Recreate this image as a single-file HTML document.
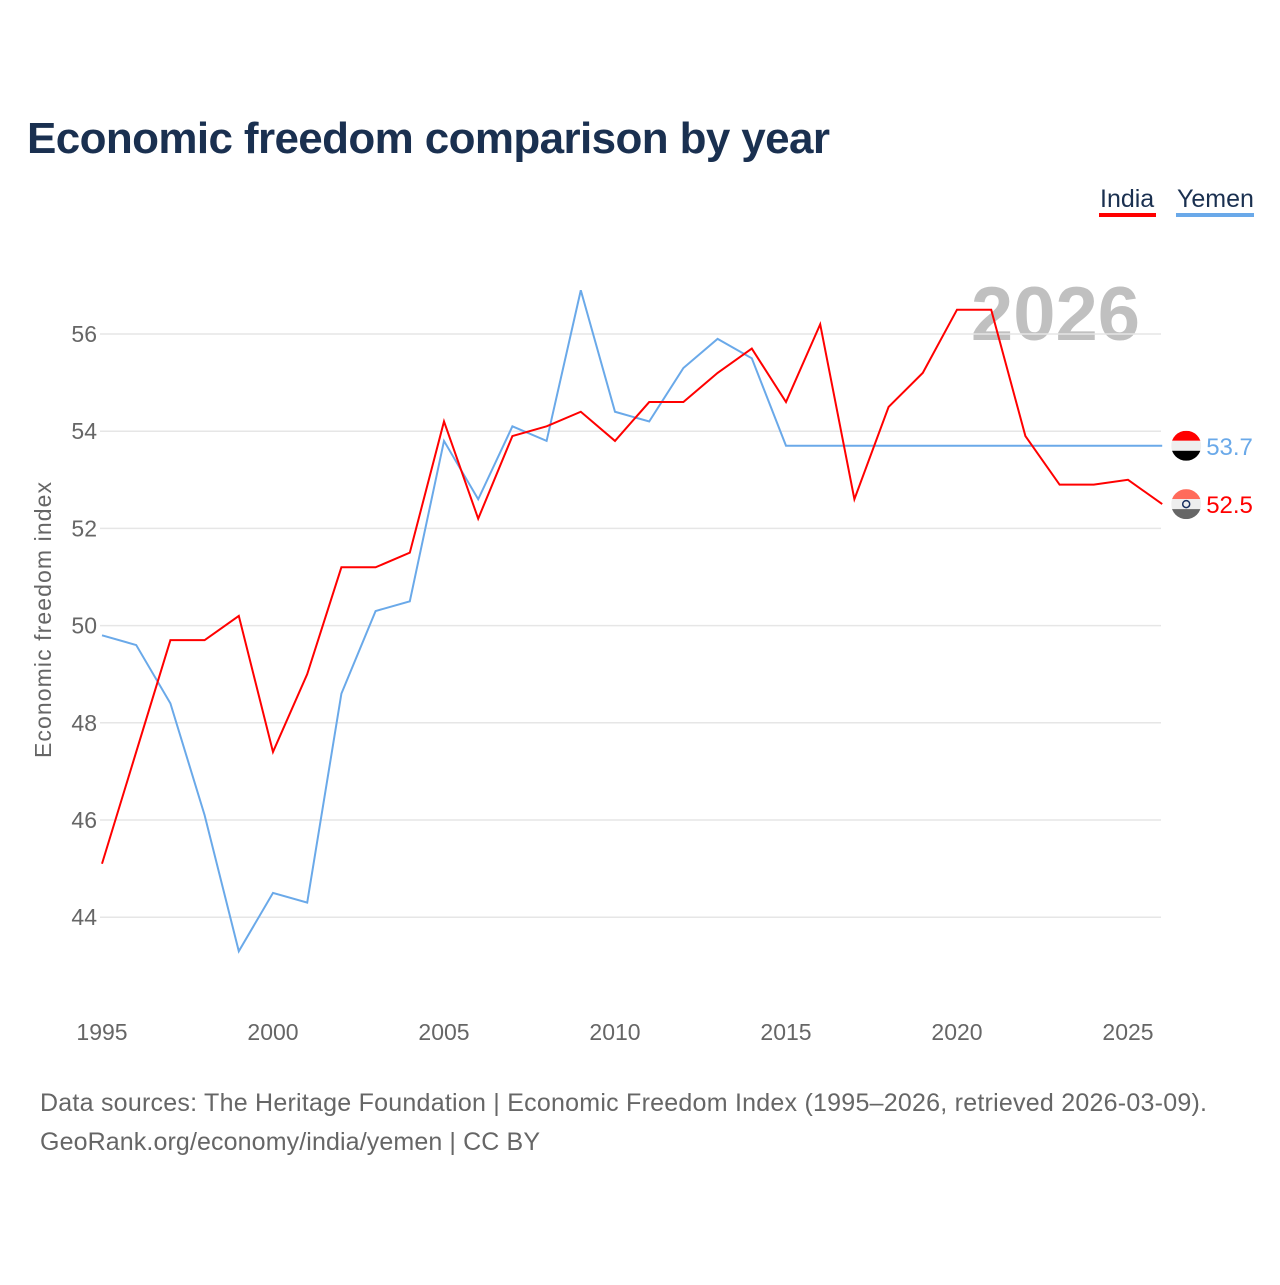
<!DOCTYPE html>
<html><head><meta charset="utf-8"><style>
body{margin:0;background:#fff;}
svg text{font-family:"Liberation Sans",sans-serif;}
</style></head><body>
<svg id="chart" width="1280" height="1280" xmlns="http://www.w3.org/2000/svg">
<text x="27" y="153" font-size="44" font-weight="bold" fill="#1a3050" textLength="803">Economic freedom comparison by year</text>
<g>
<text x="1100" y="207" font-size="25" fill="#1a3050">India</text>
<rect x="1099" y="213" width="57" height="4" fill="#ff0000"/>
<text x="1177" y="207" font-size="25" fill="#1a3050">Yemen</text>
<rect x="1176" y="213" width="78" height="4" fill="#6aa9e9"/>
</g>
<text x="1140" y="340" font-size="76" font-weight="bold" fill="#c0c0c0" text-anchor="end">2026</text>
<g id="grid"></g><g id="xticks"></g>
<text transform="translate(51,620) rotate(-90)" font-size="23" fill="#666" text-anchor="middle" textLength="276">Economic freedom index</text>
<g id="series"></g>
<text x="40" y="1111" font-size="25" fill="#666" textLength="1167">Data sources: The Heritage Foundation | Economic Freedom Index (1995–2026, retrieved 2026-03-09).</text>
<text x="40" y="1150" font-size="25" fill="#666" textLength="500">GeoRank.org/economy/india/yemen | CC BY</text>
</svg>
<script>
const years=[1995,1996,1997,1998,1999,2000,2001,2002,2003,2004,2005,2006,2007,2008,2009,2010,2011,2012,2013,2014,2015,2016,2017,2018,2019,2020,2021,2022,2023,2024,2025,2026];
const india=[45.1,47.4,49.7,49.7,50.2,47.4,49.0,51.2,51.2,51.5,54.2,52.2,53.9,54.1,54.4,53.8,54.6,54.6,55.2,55.7,54.6,56.2,52.6,54.5,55.2,56.5,56.5,53.9,52.9,52.9,53.0,52.5];
const yemen=[49.8,49.6,48.4,46.1,43.3,44.5,44.3,48.6,50.3,50.5,53.8,52.6,54.1,53.8,56.9,54.4,54.2,55.3,55.9,55.5,53.7,53.7,53.7,53.7,53.7,53.7,53.7,53.7,53.7,53.7,53.7,53.7];
const yTicks=[44,46,48,50,52,54,56];
const xTicks=[1995,2000,2005,2010,2015,2020,2025];
const NS="http://www.w3.org/2000/svg";
const X=y=>102+(y-1995)*34.2;
const Y=v=>334+(56-v)*48.6;
function mk(t,a,p){const e=document.createElementNS(NS,t);for(const k in a)e.setAttribute(k,a[k]);p.appendChild(e);return e;}
const grid=document.getElementById('grid');
yTicks.forEach(v=>{
 const l=mk('line',{x1:100,x2:1161,y1:Y(v),y2:Y(v),stroke:'#e6e6e6','stroke-width':1.5},grid);
 
 
 const t=mk('text',{x:97,y:Y(v)+8,'font-size':23,fill:'#666','text-anchor':'end'},grid);
 t.textContent=v;
 
 
});
const xt=document.getElementById('xticks');
xTicks.forEach(y=>{
 const t=mk('text',{x:X(y),y:1040,'font-size':23,fill:'#666','text-anchor':'middle'},xt);
 t.textContent=y;
 
 
});
const sg=document.getElementById('series');
function line(vals,col,name,w){
 const p=mk('polyline',{points:vals.map((v,i)=>X(years[i])+','+Y(v)).join(' '),fill:'none',stroke:col,'stroke-width':w,'stroke-linejoin':'miter'},sg);
 
 
}
line(yemen,'#6aa9e9','yemen-line',2);
line(india,'#ff0000','india-line',2);
const ex=X(2026);
function flag(cy,cols,name){
 const g=mk('g',{},sg);
 
 
 const id='c'+name;
 const cp=mk('clipPath',{id:id},g);mk('circle',{cx:ex+24,cy:cy,r:15},cp);
 cols.forEach((c,i)=>mk('rect',{x:ex+9,y:cy-15+i*10,width:30,height:10,fill:c,'clip-path':'url(#'+id+')'},g));
 return g;
}
const yl=Y(yemen[yemen.length-1]), il=Y(india[india.length-1]);
flag(yl,['#ff0000','#eeeeee','#000000'],'yemen-flag');
const ig=flag(il,['#ff6b5b','#eeeeee','#666666'],'india-flag');
mk('circle',{cx:ex+24,cy:il,r:3.5,fill:'none',stroke:'#1a3060','stroke-width':1.5},ig);
const t1=mk('text',{x:ex+44,y:yl+9,'font-size':24,fill:'#6aa9e9'},sg);t1.textContent=yemen[yemen.length-1].toFixed(1);


const t2=mk('text',{x:ex+44,y:il+9,'font-size':24,fill:'#ff0000'},sg);t2.textContent=india[india.length-1].toFixed(1);


</script>
</body></html>
